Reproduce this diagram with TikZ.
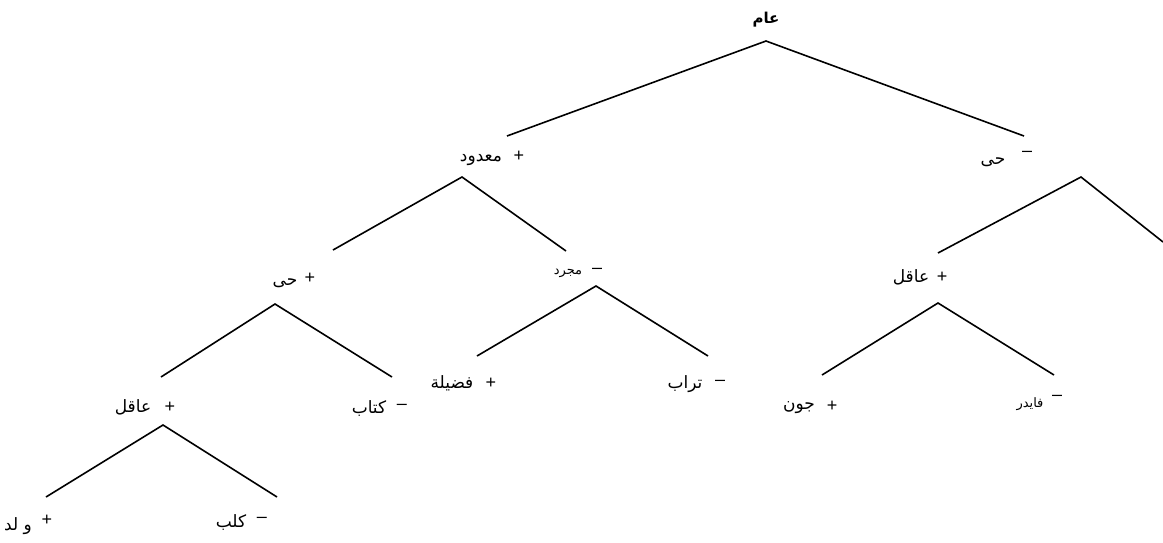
\documentclass[tikz,border=0pt]{standalone}
\usepackage{fontspec}
\setmainfont{Liberation Sans}
\newfontfamily\arabicfont[Script=Arabic]{DejaVu Sans}
\TeXXeTstate=1
\begin{document}
\begin{tikzpicture}[x=1pt,y=-1pt,
  edge/.style={line width=1.6pt},
  word/.style={inner sep=0pt,font=\arabicfont\fontsize{17}{19}\selectfont},
  smallword/.style={inner sep=0pt,font=\arabicfont\fontsize{13}{15}\selectfont},
  sign/.style={inner sep=0pt,font=\fontsize{18}{20}\selectfont}]
\useasboundingbox (0,0) rectangle (1163,542);
% apex and end coordinates
\coordinate (a0) at (766,41);
\coordinate (a0l) at (507,136);
\coordinate (a0r) at (1024,136);
\coordinate (a1) at (462,177);
\coordinate (a1l) at (333,250);
\coordinate (a1r) at (566,251);
\coordinate (a2) at (1081,177);
\coordinate (a2l) at (938,253);
\coordinate (a2r) at (1163,242);
\coordinate (a3) at (275,304);
\coordinate (a3l) at (161,377);
\coordinate (a3r) at (392,377);
\coordinate (a4) at (596,286);
\coordinate (a4l) at (477,356);
\coordinate (a4r) at (708,356);
\coordinate (a5) at (938,303);
\coordinate (a5l) at (822,375);
\coordinate (a5r) at (1054,375);
\coordinate (a6) at (163,425);
\coordinate (a6l) at (46,497);
\coordinate (a6r) at (277,497);
\foreach \n in {0,...,6} {
  \draw[edge] (a\n l) -- (a\n) -- (a\n r);
}
% labels
\node[word,font=\arabicfont\bfseries\fontsize{15}{17}\selectfont] (root) at (766,20) {\beginR عام\endR};
\node[sign] (s1) at (519,156) {+};
\node[word] (w1) at (481,160) {\beginR معدود\endR};
\node[sign] (s2) at (1027,154) {--};
\node[word] (w2) at (993,162) {\beginR حى\endR};
\node[sign] (s3) at (310,278) {+};
\node[word] (w3) at (285,283) {\beginR حى\endR};
\node[sign] (s4) at (597,271) {--};
\node[smallword] (w4) at (568,273) {\beginR مجرد\endR};
\node[sign] (s5) at (942,277) {+};
\node[word] (w5) at (911,277) {\beginR عاقل\endR};
\node[sign] (s6) at (170,407) {+};
\node[word] (w6) at (133,407) {\beginR عاقل\endR};
\node[sign] (s7) at (402,407) {--};
\node[word] (w7) at (369,408) {\beginR كتاب\endR};
\node[sign] (s8) at (491,383) {+};
\node[word] (w8) at (452,383) {\beginR فضيلة\endR};
\node[sign] (s9) at (720,383) {--};
\node[word] (w9) at (685,384) {\beginR تراب\endR};
\node[sign] (s10) at (832,406) {+};
\node[word] (w10) at (799,408) {\beginR جون\endR};
\node[sign] (s11) at (1057,398) {--};
\node[smallword] (w11) at (1030,404) {\beginR فايدر\endR};
\node[sign] (s12) at (47,520) {+};
\node[word] (w12) at (18,526) {\beginR و لد\endR};
\node[sign] (s13) at (262,520) {--};
\node[word] (w13) at (231,522) {\beginR كلب\endR};
\end{tikzpicture}
\end{document}
